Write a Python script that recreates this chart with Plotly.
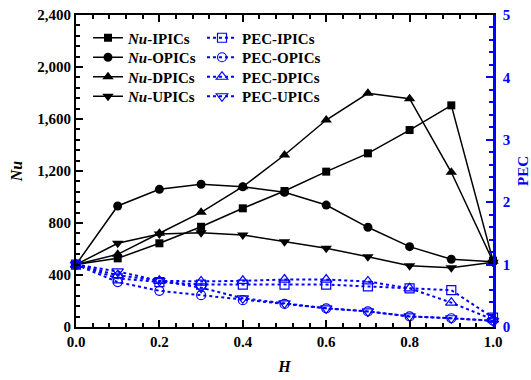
import plotly.graph_objects as go

H = [0.0, 0.1, 0.2, 0.3, 0.4, 0.5, 0.6, 0.7, 0.8, 0.9, 1.0]

nu_ipics = [480, 528, 644, 771, 913, 1046, 1195, 1336, 1515, 1705, 510]
nu_opics = [480, 931, 1059, 1098, 1079, 1036, 938, 767, 618, 521, 502]
nu_dpics = [480, 559, 721, 882, 1079, 1323, 1592, 1798, 1756, 1190, 505]
nu_upics = [480, 644, 715, 725, 708, 656, 605, 541, 472, 456, 498]

pec_ipics = [1.0, 0.78, 0.72, 0.68, 0.68, 0.68, 0.68, 0.65, 0.62, 0.59, 0.15]
pec_opics = [1.0, 0.72, 0.58, 0.51, 0.43, 0.37, 0.30, 0.25, 0.17, 0.14, 0.10]
pec_dpics = [1.0, 0.83, 0.74, 0.73, 0.74, 0.76, 0.76, 0.73, 0.62, 0.39, 0.12]
pec_upics = [1.0, 0.89, 0.74, 0.63, 0.46, 0.38, 0.30, 0.25, 0.17, 0.14, 0.10]

nu_names = ["<i>Nu</i>-IPICs", "<i>Nu</i>-OPICs", "<i>Nu</i>-DPICs", "<i>Nu</i>-UPICs"]
pec_names = ["PEC-IPICs", "PEC-OPICs", "PEC-DPICs", "PEC-UPICs"]
nu_symbols = ["square", "circle", "triangle-up", "triangle-down"]
nu_sizes = [8, 9, 10, 10]
pec_symbols = ["square-open", "circle-open", "triangle-up-open", "triangle-down-open"]
pec_sizes = [9, 9, 10, 10]

FONT = "Liberation Serif"
BLUE = "#0000FF"

# plot-area geometry (for legend placement)
PLOT_L, PLOT_T, PLOT_W, PLOT_H = 76, 15, 417, 312
row_px = [38, 57.5, 77, 96.5]
nu_leg_x_px = 88
pec_leg_x_px = 202

fig = go.Figure()
for i, (name, ys, sym, sz) in enumerate(zip(nu_names, [nu_ipics, nu_opics, nu_dpics, nu_upics], nu_symbols, nu_sizes)):
    fig.add_trace(go.Scatter(
        x=H, y=ys, name=name, mode="lines+markers",
        line=dict(color="black", width=1.5),
        marker=dict(symbol=sym, size=sz, color="black"),
        cliponaxis=False, legend="legend" if i == 0 else f"legend{i + 1}"))

for i, (name, ys, sym, sz) in enumerate(zip(pec_names, [pec_ipics, pec_opics, pec_dpics, pec_upics], pec_symbols, pec_sizes)):
    fig.add_trace(go.Scatter(
        x=H, y=ys, name=name, mode="lines+markers", yaxis="y2",
        line=dict(color=BLUE, width=2, dash="dot"),
        marker=dict(symbol=sym, size=sz, color=BLUE, line=dict(width=1.2, color=BLUE)),
        cliponaxis=False, legend=f"legend{i + 5}"))

tickfont = dict(family=FONT, size=15, color="black", weight="bold")
legfont = dict(family=FONT, size=15, color="black", weight="bold")

legends = {}
for i in range(8):
    key = "legend" if i == 0 else f"legend{i + 1}"
    xpx = nu_leg_x_px if i < 4 else pec_leg_x_px
    ypx = row_px[i % 4]
    legends[key] = dict(
        x=(xpx - PLOT_L) / PLOT_W, y=(PLOT_T + PLOT_H - ypx) / PLOT_H,
        xanchor="left", yanchor="middle",
        bgcolor="rgba(0,0,0,0)", borderwidth=0, font=legfont, itemwidth=30,
    )

fig.update_layout(
    width=531, height=380,
    margin=dict(l=76, r=38, t=15, b=53, autoexpand=False),
    paper_bgcolor="white", plot_bgcolor="white",
    font=dict(family=FONT, size=15, color="black", weight="bold"),
    showlegend=True,
    xaxis=dict(
        range=[0, 1], dtick=0.2, tick0=0, tickformat=".1f",
        showgrid=False, zeroline=False, automargin=False,
        showline=True, linecolor="black", linewidth=2, mirror="ticks",
        ticks="inside", ticklen=7, tickwidth=1.5, tickcolor="black",
        minor=dict(dtick=0.04, ticks="inside", ticklen=4, tickwidth=1.5, tickcolor="black"),
        tickfont=tickfont,
        title=dict(text="<i>H</i>", font=dict(family=FONT, size=16, color="black", weight="bold"), standoff=12),
    ),
    yaxis=dict(
        range=[0, 2400], dtick=400, tick0=0, tickformat=",d",
        showgrid=False, zeroline=False, automargin=False,
        showline=True, linecolor="black", linewidth=2,
        ticks="inside", ticklen=7, tickwidth=1.5, tickcolor="black",
        minor=dict(dtick=80, ticks="inside", ticklen=4, tickwidth=1.5, tickcolor="black"),
        tickfont=tickfont,
        title=dict(text="<i>Nu</i>", font=dict(family=FONT, size=16, color="black", weight="bold"), standoff=11),
    ),
    yaxis2=dict(
        range=[0, 5], dtick=1, tick0=0, overlaying="y", side="right",
        showgrid=False, zeroline=False, automargin=False,
        showline=True, linecolor=BLUE, linewidth=2.5,
        ticks="inside", ticklen=7, tickwidth=1.5, tickcolor=BLUE,
        minor=dict(dtick=0.2, ticks="inside", ticklen=4, tickwidth=1.5, tickcolor=BLUE),
        tickfont=dict(family=FONT, size=15, color=BLUE, weight="bold"),
        ticklabelstandoff=4,
        title=dict(text="PEC", font=dict(family=FONT, size=15, color=BLUE, weight="bold"), standoff=10),
    ),
    **legends,
)

fig.write_html("out.html")
